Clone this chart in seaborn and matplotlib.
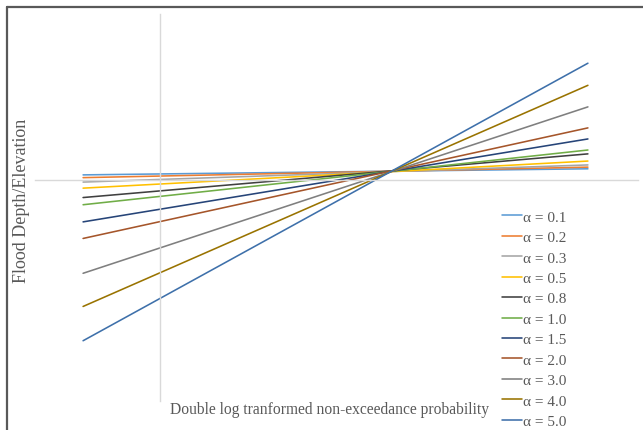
import matplotlib
matplotlib.use("Agg")
import matplotlib.pyplot as plt
from matplotlib.lines import Line2D
import numpy as np
import pandas as pd
import seaborn as sns

sns.set_style("white")
plt.rcParams["font.family"] = ["Liberation Serif", "DejaVu Serif"]

# Shape parameters and the straight-line end points of each curve
alphas = ["0.1", "0.2", "0.3", "0.5", "0.8", "1.0", "1.5", "2.0", "3.0", "4.0", "5.0"]
x_ends = [0.46, 5.50]
y_left = [0.09, 0.04, -0.04, -0.15, -0.32, -0.45, -0.76, -1.06, -1.69, -2.29, -2.91]
y_right = [0.20, 0.23, 0.27, 0.34, 0.47, 0.54, 0.74, 0.94, 1.32, 1.71, 2.11]
colors = ["#5B9BD5", "#ED7D31", "#A5A5A5", "#FFC000", "#404040", "#70AD47",
          "#264478", "#A5552A", "#7F7F7F", "#997300", "#3E70AA"]

labels = [f"α = {a}" for a in alphas]
rows = []
for lab, yl, yr in zip(labels, y_left, y_right):
    rows.append({"x": x_ends[0], "y": yl, "series": lab})
    rows.append({"x": x_ends[1], "y": yr, "series": lab})
df = pd.DataFrame(rows)

W, H = 643, 431
fig = plt.figure(figsize=(W / 100, H / 100), dpi=100)
ax = fig.add_axes([37 / W, (H - 402) / H, (638 - 37) / W, (402 - 15) / H])

sns.lineplot(data=df, x="x", y="y", hue="series", hue_order=labels,
             palette=dict(zip(labels, colors)), sort=False, estimator=None,
             linewidth=1.15, ax=ax, legend=True)

ax.set_xlim(0, 6)
ax.set_ylim(-4, 3)
ax.set_xticks(range(0, 7))
ax.set_yticks(range(-4, 4))
ax.set_xticklabels([])
ax.set_yticklabels([])
ax.set_xlabel("")
ax.set_ylabel("")

axis_col = "#D9D9D9"
for s in ["top", "right"]:
    ax.spines[s].set_visible(False)
ax.spines["bottom"].set_position(("data", 0))
ax.spines["left"].set_position(("data", 1.228))
ax.spines["bottom"].set_color(axis_col)
ax.spines["left"].set_color(axis_col)
ax.spines["bottom"].set_linewidth(1.0)
ax.spines["left"].set_linewidth(1.0)
ax.spines["bottom"].set_bounds(-0.02, 6)
ax.tick_params(axis="both", direction="out", length=3, width=1.0, color=axis_col)
ax.set_zorder(1)

handles, labs = ax.get_legend_handles_labels()
ax.get_legend().remove()
leg = fig.legend(handles, labs, loc="upper left",
                 bbox_to_anchor=(496 / W, 1 - 205 / H),
                 frameon=False, fontsize=11, handlelength=1.3,
                 handletextpad=0.1, labelspacing=0.44, borderaxespad=0)
for t in leg.get_texts():
    t.set_color("#595959")

fig.text(22 / W, 1 - 201 / H, "Flood Depth/Elevation", rotation=90,
         ha="center", va="center", fontsize=13, color="#595959")
fig.text(329 / W, 1 - 410 / H, "Double log tranformed non-exceedance probability",
         ha="center", va="center", fontsize=11.2, color="#595959")

# frame around the chart area
fig.add_artist(Line2D([7 / W, 1], [1 - 8 / H, 1 - 8 / H], color="#595959",
                      linewidth=1.6, transform=fig.transFigure))
fig.add_artist(Line2D([7 / W, 7 / W], [0, 1 - 8 / H], color="#595959",
                      linewidth=1.6, transform=fig.transFigure))

fig.savefig("out.png", dpi=100)
